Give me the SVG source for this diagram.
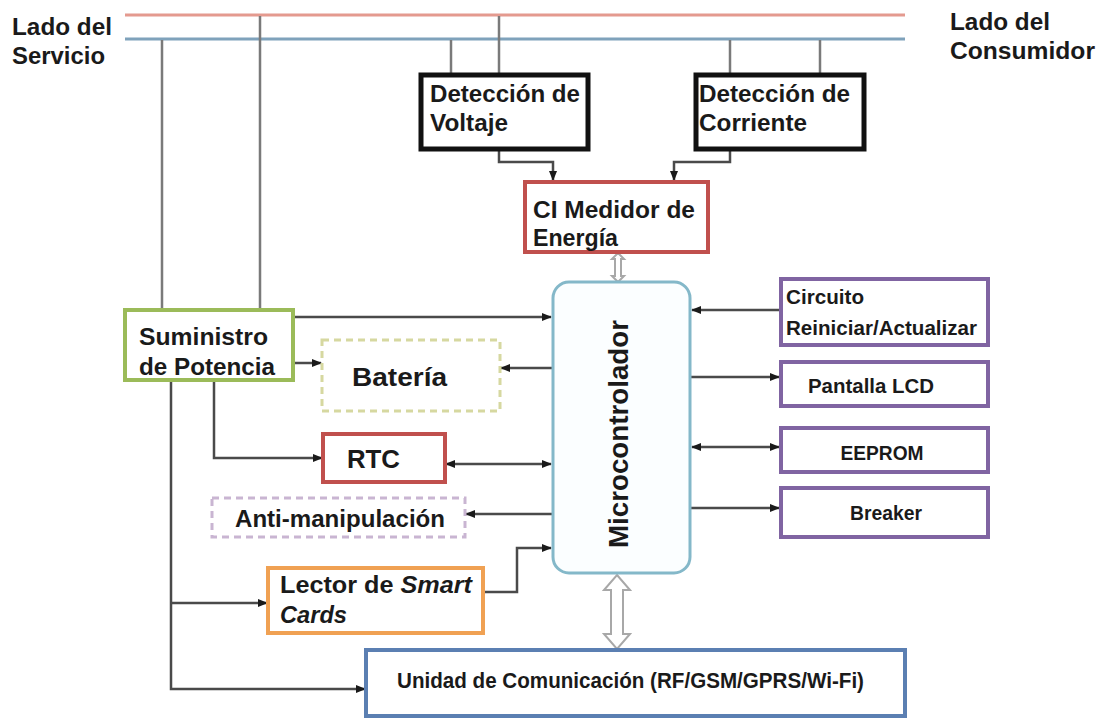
<svg xmlns="http://www.w3.org/2000/svg" width="1104" height="719" viewBox="0 0 1104 719">
<defs>
<marker id="ah" markerUnits="userSpaceOnUse" markerWidth="10" markerHeight="10" viewBox="0 0 10 10" refX="9" refY="5" orient="auto-start-reverse">
<path d="M0,1 L10,5 L0,9 Z" fill="#1a1a1a"/>
</marker>
<style>
.t{font-family:"Liberation Sans",Arial,sans-serif;font-weight:bold;fill:#1a1a1a;font-size:23px}
.s{font-size:21px}
.c{fill:none;stroke:#4a4a4a;stroke-width:2.5}
.v{fill:none;stroke:#7a7a7a;stroke-width:2.5}
.box{fill:#fff}
.hol{fill:#fff;stroke:#a8a8a8;stroke-width:2}
</style>
</defs>
<rect width="1104" height="719" fill="#fff"/>

<g id="buses">
<line x1="125" y1="15" x2="905" y2="15" stroke="#e49a8f" stroke-width="3"/>
<line x1="125" y1="39" x2="905" y2="39" stroke="#7fa2bb" stroke-width="3"/>
<text class="t" x="12" y="35" textLength="100" lengthAdjust="spacingAndGlyphs">Lado del</text>
<text class="t" x="12" y="64" textLength="93" lengthAdjust="spacingAndGlyphs">Servicio</text>
<text class="t" x="950" y="30" textLength="100" lengthAdjust="spacingAndGlyphs">Lado del</text>
<text class="t" x="950" y="59" textLength="145" lengthAdjust="spacingAndGlyphs">Consumidor</text>
</g>

<g id="connectors">
<path class="v" d="M162,40 V310"/>
<path class="v" d="M260,16 V310"/>
<path class="v" d="M451,40 V75"/>
<path class="v" d="M499,16 V75"/>
<path class="v" d="M730,40 V75"/>
<path class="v" d="M820,40 V75"/>
<path class="c" d="M499,149 V162 H553 V180" marker-end="url(#ah)"/>
<path class="c" d="M730,149 V162 H674 V180" marker-end="url(#ah)"/>
<path class="c" d="M293,317 H551" marker-end="url(#ah)"/>
<path class="c" d="M293,363 H321" marker-end="url(#ah)"/>
<path class="c" d="M553,368 H501" marker-end="url(#ah)"/>
<path class="c" d="M214,380 V458 H322" marker-end="url(#ah)"/>
<path class="c" d="M446,464 H551" marker-start="url(#ah)" marker-end="url(#ah)"/>
<path class="c" d="M553,514 H466" marker-end="url(#ah)"/>
<path class="c" d="M483,592 H517 V548 H551" marker-end="url(#ah)"/>
<path class="c" d="M171,380 V689 H365" marker-end="url(#ah)"/>
<path class="c" d="M171,603 H267" marker-end="url(#ah)"/>
<path class="c" d="M780,310 H692" marker-end="url(#ah)"/>
<path class="c" d="M690,377 H779" marker-end="url(#ah)"/>
<path class="c" d="M692,447 H779" marker-start="url(#ah)" marker-end="url(#ah)"/>
<path class="c" d="M690,508 H779" marker-end="url(#ah)"/>
<path class="hol" d="M618,253 L624,259 L621,259 L621,276 L624,276 L618,282 L612,276 L615,276 L615,259 L612,259 Z"/>
<path class="hol" d="M617,575 L630,590 L623,590 L623,634 L630,634 L617,649 L604,634 L611,634 L611,590 L604,590 Z"/>
</g>

<g id="det-voltaje">
<rect class="box" x="421" y="75" width="167" height="74" stroke="#111" stroke-width="5"/>
<text class="t" x="430" y="102" textLength="150" lengthAdjust="spacingAndGlyphs">Detección de</text>
<text class="t" x="430" y="131" textLength="78" lengthAdjust="spacingAndGlyphs">Voltaje</text>
</g>

<g id="det-corriente">
<rect class="box" x="696" y="75" width="168" height="74" stroke="#111" stroke-width="5"/>
<text class="t" x="699" y="102" textLength="151" lengthAdjust="spacingAndGlyphs">Detección de</text>
<text class="t" x="699" y="131" textLength="108" lengthAdjust="spacingAndGlyphs">Corriente</text>
</g>

<g id="ci-medidor">
<rect class="box" x="525" y="182" width="183" height="70" stroke="#c0504d" stroke-width="4"/>
<text class="t" x="533" y="218" textLength="162" lengthAdjust="spacingAndGlyphs">CI Medidor de</text>
<text class="t" x="533" y="246" textLength="85" lengthAdjust="spacingAndGlyphs">Energía</text>
</g>

<g id="microcontrolador">
<rect x="553" y="282" width="137" height="291" rx="16" fill="#fbfeff" stroke="#84b8c9" stroke-width="3"/>
<text class="t" transform="translate(628,434) rotate(-90)" x="0" y="0" text-anchor="middle" style="font-size:28px" textLength="228" lengthAdjust="spacingAndGlyphs">Microcontrolador</text>
</g>

<g id="suministro">
<rect class="box" x="125" y="310" width="168" height="70" stroke="#9bbb59" stroke-width="4"/>
<text class="t" x="139" y="345" textLength="129" lengthAdjust="spacingAndGlyphs">Suministro</text>
<text class="t" x="139" y="375" textLength="136" lengthAdjust="spacingAndGlyphs">de Potencia</text>
</g>

<g id="bateria">
<rect class="box" x="322" y="340" width="178" height="71" stroke="#d6d8a0" stroke-width="3" stroke-dasharray="7,5"/>
<text class="t" x="352" y="386" style="font-size:25px" textLength="95" lengthAdjust="spacingAndGlyphs">Batería</text>
</g>

<g id="rtc">
<rect class="box" x="323" y="434" width="122" height="48" stroke="#c0504d" stroke-width="4"/>
<text class="t" x="347" y="468" style="font-size:26px" textLength="53" lengthAdjust="spacingAndGlyphs">RTC</text>
</g>

<g id="anti">
<rect class="box" x="212" y="498" width="253" height="39" stroke="#c9b5d2" stroke-width="3" stroke-dasharray="7,5"/>
<text class="t" x="235" y="527" textLength="210" lengthAdjust="spacingAndGlyphs">Anti-manipulación</text>
</g>

<g id="lector">
<rect class="box" x="268" y="568" width="215" height="65" stroke="#f0a153" stroke-width="4"/>
<text class="t" x="280" y="593" textLength="192" lengthAdjust="spacingAndGlyphs">Lector de <tspan font-style="italic">Smart</tspan></text>
<text class="t" x="280" y="623" font-style="italic" textLength="67" lengthAdjust="spacingAndGlyphs">Cards</text>
</g>

<g id="comunicacion">
<rect class="box" x="366" y="650" width="539" height="66" stroke="#5b7fb2" stroke-width="4"/>
<text class="t" x="397" y="688" style="font-size:22px" textLength="467" lengthAdjust="spacingAndGlyphs">Unidad de Comunicación (RF/GSM/GPRS/Wi-Fi)</text>
</g>

<g id="circuito">
<rect class="box" x="781" y="279" width="207" height="66" stroke="#8064a2" stroke-width="4"/>
<text class="t s" x="786" y="304" textLength="78" lengthAdjust="spacingAndGlyphs">Circuito</text>
<text class="t s" x="786" y="335" textLength="191" lengthAdjust="spacingAndGlyphs">Reiniciar/Actualizar</text>
</g>

<g id="pantalla">
<rect class="box" x="781" y="362" width="207" height="44" stroke="#8064a2" stroke-width="4"/>
<text class="t s" x="871" y="393" text-anchor="middle" textLength="126" lengthAdjust="spacingAndGlyphs">Pantalla LCD</text>
</g>

<g id="eeprom">
<rect class="box" x="781" y="428" width="207" height="44" stroke="#8064a2" stroke-width="4"/>
<text class="t s" x="882" y="460" text-anchor="middle" textLength="83" lengthAdjust="spacingAndGlyphs">EEPROM</text>
</g>

<g id="breaker">
<rect class="box" x="781" y="488" width="207" height="49" stroke="#8064a2" stroke-width="4"/>
<text class="t s" x="886" y="520" text-anchor="middle" textLength="72" lengthAdjust="spacingAndGlyphs">Breaker</text>
</g>
</svg>
